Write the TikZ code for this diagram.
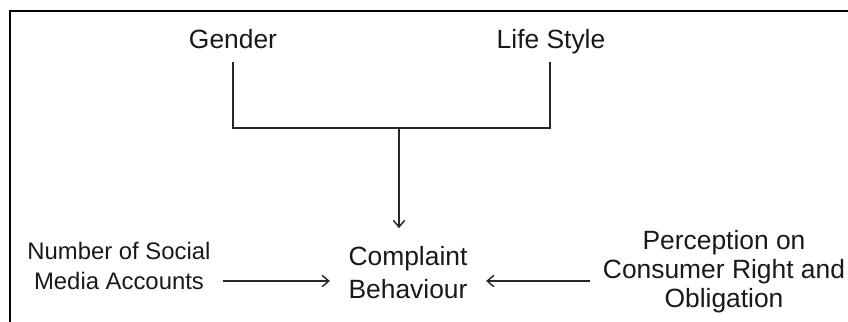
\documentclass[tikz,border=0pt]{standalone}
\usepackage{fontspec}
\setmainfont{Liberation Sans}
\usetikzlibrary{arrows.meta}
\begin{document}
\begin{tikzpicture}[x=0.75pt,y=-0.75pt,
  lbl/.style={inner sep=0pt,align=center,text=black!90},
  big/.style={font=\fontsize{19.8pt}{24.75pt}\selectfont},
  conn/.style={line width=1.1pt,draw=black!85},
  arr/.style={conn,-{Straight Barb[length=5pt,width=8.5pt,line width=1.1pt]}}]
\useasboundingbox (0,0) rectangle (848,321);
\draw[line width=2.2pt] (10,330) -- (10,11) -- (860,11);
% nodes
\node[lbl,big,anchor=base] (gender) at (233,49) {Gender};
\node[lbl,big,anchor=base] (life) at (551,49) {Life Style};
\node[lbl,big,outer sep=14pt] (cb) at (408,273) {Complaint\\Behaviour};
\node[lbl,font=\fontsize{17.9pt}{22.5pt}\selectfont,outer sep=9pt] (num) at (119,266) {Number of Social\\Media Accounts};
\node[lbl,font=\fontsize{19.8pt}{21.75pt}\selectfont,outer sep=9.5pt] (perc) at (724,271.5) {Perception on\\Consumer Right and\\Obligation};
% connectors
\path (gender.base) ++(0,13) coordinate (gs);
\path (life.base) ++(-1,13) coordinate (ls);
\coordinate (j) at (399,128);
\coordinate (ay) at (0,281);
\draw[conn] (gs) -- (gs |- j) -- (ls |- j) -- (ls);
\draw[arr] (j) -- (j |- cb.north);
\draw[arr] (num.east |- ay) -- (cb.west |- ay);
\draw[arr] (perc.west |- ay) -- (cb.east |- ay);
\end{tikzpicture}
\end{document}
